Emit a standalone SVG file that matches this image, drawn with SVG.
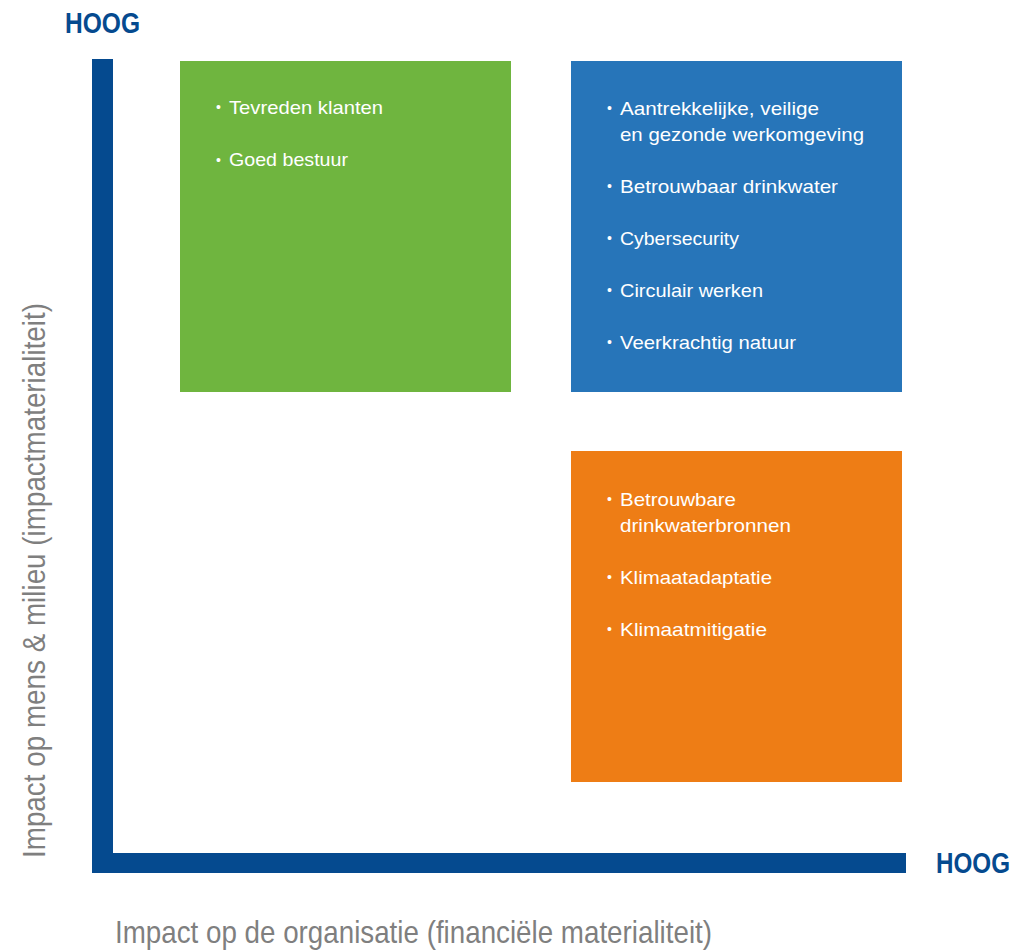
<svg xmlns="http://www.w3.org/2000/svg" width="1023" height="951" viewBox="0 0 1023 951">
<style>
.hoog{font-family:"Liberation Sans",Arial,sans-serif;font-weight:bold;font-size:29px;fill:#054a8f}
.axis{font-family:"Liberation Sans",Arial,sans-serif;font-size:32px;fill:#7f7f7f}
.item{font-family:"Liberation Sans",Arial,sans-serif;font-size:19px;fill:#ffffff}
.bul{font-family:"Liberation Sans",Arial,sans-serif;font-size:14px;fill:#ffffff}
</style>
<rect width="1023" height="951" fill="#ffffff"/>
<g id="axes">
  <rect x="92" y="59" width="21" height="814" fill="#054a8f"/>
  <rect x="92" y="853" width="814" height="20" fill="#054a8f"/>
  <text class="hoog" x="65" y="33" textLength="75" lengthAdjust="spacingAndGlyphs">HOOG</text>
  <text class="hoog" x="936" y="873" textLength="74" lengthAdjust="spacingAndGlyphs">HOOG</text>
  <text class="axis" x="115" y="943" textLength="597" lengthAdjust="spacingAndGlyphs">Impact op de organisatie (financiële materialiteit)</text>
  <text class="axis" transform="translate(45,858) rotate(-90)" x="0" y="0" textLength="555" lengthAdjust="spacingAndGlyphs">Impact op mens &amp; milieu (impactmaterialiteit)</text>
</g>
<g id="green">
  <rect x="180" y="61" width="331" height="331" fill="#6fb53f"/>
  <text class="bul" x="216" y="112">•</text>
  <text class="item" x="229" y="114" textLength="154" lengthAdjust="spacingAndGlyphs">Tevreden klanten</text>
  <text class="bul" x="216" y="165">•</text>
  <text class="item" x="229" y="166" textLength="119" lengthAdjust="spacingAndGlyphs">Goed bestuur</text>
</g>
<g id="blue">
  <rect x="571" y="61" width="331" height="331" fill="#2775b9"/>
  <text class="bul" x="607" y="113">•</text>
  <text class="item" x="620" y="115" textLength="199" lengthAdjust="spacingAndGlyphs">Aantrekkelijke, veilige</text>
  <text class="item" x="620" y="141" textLength="244" lengthAdjust="spacingAndGlyphs">en gezonde werkomgeving</text>
  <text class="bul" x="607" y="191">•</text>
  <text class="item" x="620" y="193" textLength="218" lengthAdjust="spacingAndGlyphs">Betrouwbaar drinkwater</text>
  <text class="bul" x="607" y="243">•</text>
  <text class="item" x="620" y="245" textLength="119" lengthAdjust="spacingAndGlyphs">Cybersecurity</text>
  <text class="bul" x="607" y="295">•</text>
  <text class="item" x="620" y="297" textLength="143" lengthAdjust="spacingAndGlyphs">Circulair werken</text>
  <text class="bul" x="607" y="347">•</text>
  <text class="item" x="620" y="349" textLength="176" lengthAdjust="spacingAndGlyphs">Veerkrachtig natuur</text>
</g>
<g id="orange">
  <rect x="571" y="451" width="331" height="331" fill="#ee7d15"/>
  <text class="bul" x="607" y="504">•</text>
  <text class="item" x="620" y="506" textLength="116" lengthAdjust="spacingAndGlyphs">Betrouwbare</text>
  <text class="item" x="620" y="532" textLength="171" lengthAdjust="spacingAndGlyphs">drinkwaterbronnen</text>
  <text class="bul" x="607" y="582">•</text>
  <text class="item" x="620" y="584" textLength="152" lengthAdjust="spacingAndGlyphs">Klimaatadaptatie</text>
  <text class="bul" x="607" y="634">•</text>
  <text class="item" x="620" y="636" textLength="147" lengthAdjust="spacingAndGlyphs">Klimaatmitigatie</text>
</g>
<g id="connectors"></g>
</svg>
